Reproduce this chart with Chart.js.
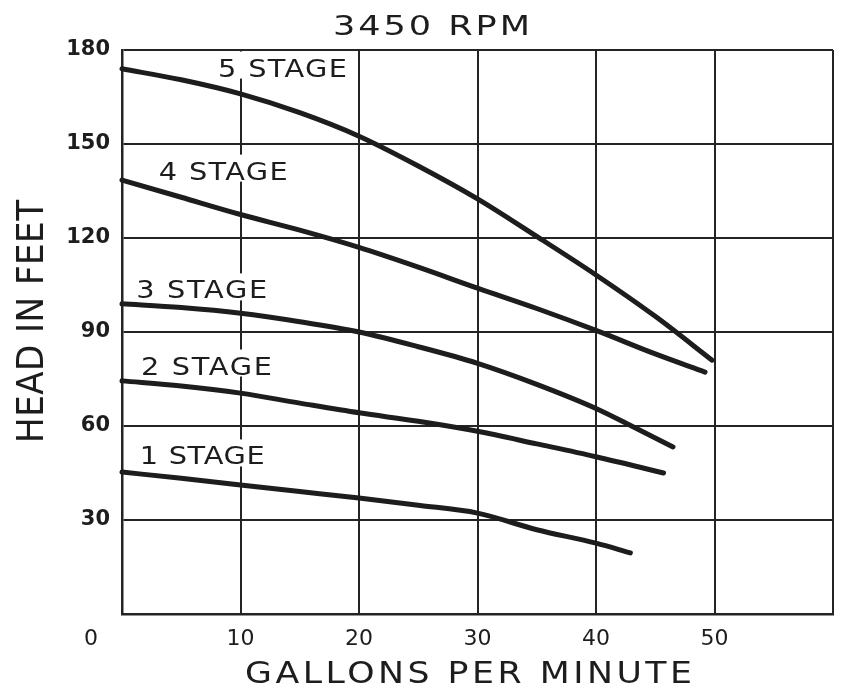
<!DOCTYPE html>
<html>
<head>
<meta charset="utf-8">
<script src="https://cdn.jsdelivr.net/npm/chart.js@4.4.1/dist/chart.umd.min.js"></script>
<style>
  html, body { margin: 0; padding: 0; background: #ffffff; }
  #wrap { width: 841px; height: 688px; position: relative; }
</style>
</head>
<body>
<div id="wrap"><canvas id="c" width="841" height="688"></canvas></div>
<script>
// ---------- DATA ----------
const chartTitle = '3450 RPM';
const xTitle = 'GALLONS PER MINUTE';
const yTitle = 'HEAD IN FEET';
const stageNames = ['1 STAGE', '2 STAGE', '3 STAGE', '4 STAGE', '5 STAGE'];

const gpm1  = [0, 5, 10, 15, 20, 25, 30, 35, 40, 42.9];
const head1 = [45.3, 43.3, 41.2, 39.1, 37.0, 34.7, 32.2, 26.9, 22.6, 19.5];

const gpm2  = [0, 5, 10, 15, 20, 25, 30, 35, 40, 45.7];
const head2 = [74.4, 72.8, 70.5, 67.3, 64.2, 61.5, 58.3, 54.3, 50.2, 45.0];

const gpm3  = [0, 5, 10, 15, 20, 25, 30, 35, 40, 43, 46.5];
const head3 = [99.0, 97.8, 96.0, 93.3, 90.0, 85.3, 80.0, 73.3, 65.6, 60.0, 53.3];

const gpm4  = [0, 5, 10, 15, 20, 25, 30, 35, 40, 45, 49.2];
const head4 = [138.5, 133.0, 127.5, 122.5, 117.0, 110.7, 104.0, 97.5, 90.5, 83.0, 77.2];

const gpm5  = [0, 5, 10, 15, 20, 25, 30, 35, 40, 45, 49.8];
const head5 = [174.0, 170.5, 166.0, 160.0, 152.5, 143.0, 132.5, 120.5, 108.2, 95.0, 81.0];

const xTicks = [0, 10, 20, 30, 40, 50, 60];
const xTickLabels = ['0', '10', '20', '30', '40', '50', ''];
const yTicks = [0, 30, 60, 90, 120, 150, 180];
const yTickLabels = ['', '30', '60', '90', '120', '150', '180'];

// ---------- STYLE / PLACEMENT ----------
const INK = '#1d1d1d';
const GRID = '#242424';
const condensed = "'DejaVu Sans Condensed', 'DejaVu Sans', sans-serif";
const plain = "'DejaVu Sans', sans-serif";

// stage label anchors (left edge gpm, vertical center in feet) and pixel widths
const stagePlacement = [
  { gx: 1.5, hy: 50.6,  w: 125 },
  { gx: 1.6, hy: 79.3,  w: 131 },
  { gx: 1.2, hy: 103.6, w: 131 },
  { gx: 3.1, hy: 141.5, w: 129 },
  { gx: 8.1, hy: 174.4, w: 129 }
];

function toPoints(xs, ys) { return xs.map((x, i) => ({ x: x, y: ys[i] })); }

const seriesX = [gpm1, gpm2, gpm3, gpm4, gpm5];
const seriesY = [head1, head2, head3, head4, head5];

const datasets = seriesX.map((xs, i) => ({
  label: stageNames[i],
  data: toPoints(xs, seriesY[i]),
  borderColor: INK,
  borderWidth: 5,
  borderCapStyle: 'round',
  borderJoinStyle: 'round',
  pointRadius: 0,
  fill: false,
  cubicInterpolationMode: 'monotone',
  clip: false
}));

// draws text stretched horizontally by sx, spread to fill `width` pixels
function spacedText(ctx, text, left, baseline, width, sx) {
  sx = sx || 1;
  ctx.save();
  ctx.letterSpacing = '0px';
  const w0 = ctx.measureText(text).width;
  const n = [...text].length;
  const sp = n > 1 ? (width / sx - w0) / (n - 1) : 0;
  ctx.letterSpacing = sp + 'px';
  ctx.textAlign = 'left';
  ctx.textBaseline = 'alphabetic';
  ctx.translate(left, baseline);
  ctx.scale(sx, 1);
  ctx.fillText(text, 0, 0);
  ctx.restore();
}

const annotPlugin = {
  id: 'annot',
  beforeDatasetsDraw(chart) {
    const ctx = chart.ctx;
    const xs = chart.scales.x, ys = chart.scales.y;
    ctx.save();
    ctx.font = "normal 24px " + plain;
    stageNames.forEach((name, i) => {
      const p = stagePlacement[i];
      const left = xs.getPixelForValue(p.gx);
      const cy = ys.getPixelForValue(p.hy);
      const capTop = cy - 9, capBottom = cy + 9;
      ctx.fillStyle = '#ffffff';
      ctx.fillRect(left - 3, capTop - 7, p.w + 5, (capBottom - capTop) + 9);
      ctx.fillStyle = INK;
      spacedText(ctx, name, left, capBottom, p.w, 1.2);
    });
    ctx.restore();
  },
  afterDraw(chart) {
    const ctx = chart.ctx;
    const xs = chart.scales.x;
    ctx.save();
    ctx.fillStyle = INK;
    // chart title
    ctx.font = "normal 27px " + plain;
    spacedText(ctx, chartTitle, 333, 35, 197, 1.3);
    // x title
    ctx.font = "normal 31px " + plain;
    spacedText(ctx, xTitle, 245, 683, 447, 1.12);
    // origin label "0" sits left of the axis, on the tick-label row
    ctx.font = "normal 22px " + plain;
    ctx.textAlign = 'center';
    ctx.textBaseline = 'middle';
    ctx.fillText(xTickLabels[0], xs.getPixelForValue(xTicks[0]) - 31, xs.top + 12 + 13);
    // y title rotated
    ctx.translate(43, 443);
    ctx.rotate(-Math.PI / 2);
    ctx.font = "normal 38px " + condensed;
    spacedText(ctx, yTitle, 0, 0, 243, 1);
    ctx.restore();
  }
};

new Chart(document.getElementById('c'), {
  type: 'line',
  data: { datasets: datasets },
  plugins: [annotPlugin],
  options: {
    responsive: false,
    devicePixelRatio: 1,
    animation: false,
    layout: { padding: { top: 50, right: 8, left: 0, bottom: 0 } },
    plugins: { legend: { display: false }, tooltip: { enabled: false }, title: { display: false } },
    scales: {
      x: {
        type: 'linear',
        min: 0, max: 60,
        afterBuildTicks: (s) => { s.ticks = xTicks.map(v => ({ value: v })); },
        afterFit: (s) => { s.height = 74; },
        ticks: {
          autoSkip: false, maxRotation: 0, minRotation: 0,
          padding: 2,
          color: INK,
          font: { family: plain, size: 22 },
          callback: (v) => { const i = xTicks.indexOf(v); return (i <= 0) ? '' : xTickLabels[i]; }
        },
        grid: { color: GRID, lineWidth: 2, drawTicks: true, tickLength: 10, tickColor: 'rgba(0,0,0,0)' },
        border: { display: true, color: GRID, width: 2.5 }
      },
      y: {
        type: 'linear',
        min: 0, max: 180,
        afterBuildTicks: (s) => { s.ticks = yTicks.map(v => ({ value: v })); },
        afterFit: (s) => { s.width = 122; },
        ticks: {
          autoSkip: false,
          padding: 12,
          color: INK,
          font: { family: plain, size: 21, weight: 'bold' },
          callback: (v) => { const i = yTicks.indexOf(v); return i < 0 ? '' : yTickLabels[i]; }
        },
        grid: { color: GRID, lineWidth: 2, drawTicks: false },
        border: { display: true, color: GRID, width: 2.5 }
      }
    }
  }
});
</script>
</body>
</html>
